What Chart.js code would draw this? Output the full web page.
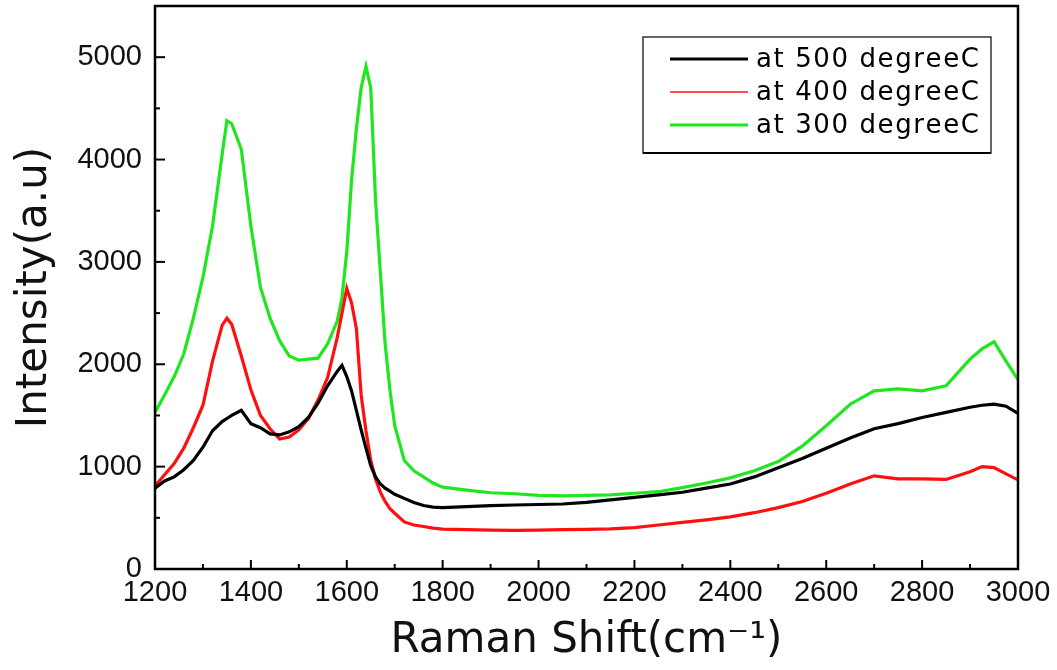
<!DOCTYPE html>
<html>
<head>
<meta charset="utf-8">
<script src="https://cdn.jsdelivr.net/npm/chart.js@4/dist/chart.umd.min.js"></script>
<style>
  body { margin: 0; background: #fff; }
  #wrap { width: 1057px; height: 670px; position: relative; }
</style>
</head>
<body>
<div id="wrap"><canvas id="raman"></canvas></div>
<script>
// Raman shift positions (cm-1)
const shift = [1200, 1220, 1240, 1260, 1280, 1300, 1320, 1340, 1350, 1360, 1380, 1400, 1420, 1440, 1460, 1480, 1500, 1520, 1540, 1560, 1580, 1590, 1600, 1610, 1620, 1630, 1640, 1650, 1660, 1670, 1680, 1690, 1700, 1720, 1740, 1760, 1780, 1800, 1850, 1900, 1950, 2000, 2050, 2100, 2150, 2200, 2250, 2300, 2350, 2400, 2450, 2500, 2550, 2600, 2650, 2700, 2750, 2800, 2850, 2900, 2925, 2950, 2975, 3000];

// intensities (a.u)
const at500 = [790, 860, 900, 970, 1060, 1190, 1350, 1440, 1470, 1500, 1550, 1420, 1380, 1320, 1310, 1340, 1390, 1480, 1620, 1790, 1930, 1990, 1880, 1740, 1550, 1360, 1180, 1010, 900, 830, 790, 760, 730, 690, 650, 620, 605, 600, 610, 620, 625, 630, 635, 650, 675, 700, 725, 750, 790, 830, 900, 990, 1080, 1180, 1280, 1370, 1420, 1480, 1530, 1580, 1600, 1610, 1590, 1520];
const at400 = [810, 920, 1030, 1180, 1380, 1600, 2030, 2380, 2450, 2390, 2080, 1750, 1500, 1370, 1270, 1290, 1360, 1470, 1650, 1870, 2260, 2500, 2740, 2600, 2350, 1700, 1350, 1060, 880, 750, 660, 590, 545, 460, 430, 415, 400, 390, 385, 380, 378, 380, 385, 388, 392, 405, 430, 455, 480, 510, 550, 600, 660, 740, 830, 910, 880, 880, 875, 950, 1000, 990, 930, 870];
const at300 = [1530, 1700, 1880, 2100, 2450, 2850, 3350, 4050, 4380, 4350, 4100, 3350, 2750, 2450, 2230, 2080, 2040, 2050, 2060, 2200, 2420, 2650, 3100, 3800, 4300, 4700, 4910, 4700, 3600, 2900, 2200, 1750, 1400, 1060, 960, 900, 840, 800, 770, 745, 735, 720, 715, 720, 725, 740, 755, 795, 840, 890, 960, 1050, 1200, 1400, 1610, 1740, 1760, 1740, 1790, 2050, 2150, 2220, 2030, 1850];

const seriesNames = ['at 500 degreeC', 'at 400 degreeC', 'at 300 degreeC'];
const xTicks = [1200, 1400, 1600, 1800, 2000, 2200, 2400, 2600, 2800, 3000];
const yTicks = [0, 1000, 2000, 3000, 4000, 5000];

function pts(vals) {
  return shift.map((x, i) => ({ x: x, y: vals[i] }));
}

// text with extra spacing between letters (legend font is wide)
function spacedText(ctx, str, x, y, gap) {
  for (const ch of str) {
    ctx.fillText(ch, x, y);
    x += ctx.measureText(ch).width + gap;
  }
}

// frame, inward ticks and legend box
const framePlugin = {
  id: 'frame',
  afterDraw(chart) {
    const ctx = chart.ctx;
    const a = chart.chartArea;
    const xs = chart.scales.x, ys = chart.scales.y;
    ctx.save();
    ctx.strokeStyle = '#000';
    ctx.lineWidth = 2.5;
    ctx.strokeRect(a.left, a.top, a.right - a.left, a.bottom - a.top);

    // ticks pointing into the plot
    ctx.lineWidth = 2;
    for (let v = 1200; v <= 3000; v += 100) {
      const px = xs.getPixelForValue(v);
      const len = v % 200 === 0 ? 9 : 5;
      ctx.beginPath();
      ctx.moveTo(px, a.bottom);
      ctx.lineTo(px, a.bottom - len);
      ctx.stroke();
    }
    for (let v = 0; v <= 5500; v += 500) {
      const py = ys.getPixelForValue(v);
      const len = v % 1000 === 0 ? 10 : 5;
      ctx.beginPath();
      ctx.moveTo(a.left, py);
      ctx.lineTo(a.left + len, py);
      ctx.stroke();
    }

    // legend
    const bx = 643, by = 37, bw = 348, bh = 116;
    ctx.fillStyle = '#fff';
    ctx.fillRect(bx, by, bw, bh);
    ctx.lineWidth = 1.2;
    ctx.strokeRect(bx, by, bw, bh);
    ctx.lineWidth = 2;
    ctx.beginPath();
    ctx.moveTo(bx, by + bh);
    ctx.lineTo(bx + bw, by + bh);
    ctx.stroke();
    const rows = [59, 92, 125];
    const widths = [3, 1.5, 3];
    ctx.font = '26px "DejaVu Sans", sans-serif';
    ctx.textBaseline = 'middle';
    chart.data.datasets.forEach((ds, i) => {
      ctx.strokeStyle = ds.borderColor;
      ctx.lineWidth = widths[i];
      ctx.beginPath();
      ctx.moveTo(670, rows[i]);
      ctx.lineTo(748, rows[i]);
      ctx.stroke();
      ctx.fillStyle = '#000';
      spacedText(ctx, ds.label, 756, rows[i] + 1, 1.6);
    });
    ctx.restore();
  }
};

const ctx = document.getElementById('raman').getContext('2d');
const ramanChart = new Chart(ctx, {
  type: 'line',
  data: {
    datasets: [
      { label: seriesNames[0], data: pts(at500), borderColor: '#000000', borderWidth: 3.2 },
      { label: seriesNames[1], data: pts(at400), borderColor: '#ff1010', borderWidth: 3.2 },
      { label: seriesNames[2], data: pts(at300), borderColor: '#1fe61f', borderWidth: 3.2 }
    ]
  },
  options: {
    responsive: true,
    maintainAspectRatio: false,
    animation: false,
    elements: { point: { radius: 0 }, line: { tension: 0 } },
    layout: { padding: { left: 0, right: 39, top: 6, bottom: 0 } },
    plugins: {
      legend: { display: false },
      tooltip: { enabled: false }
    },
    scales: {
      x: {
        type: 'linear',
        min: 1200,
        max: 3000,
        afterBuildTicks: (s) => { s.ticks = xTicks.map(v => ({ value: v })); },
        afterFit: (s) => { s.height = 101; s.paddingLeft = 0; s.paddingRight = 0; },
        grid: { display: false, drawTicks: false },
        border: { display: false },
        ticks: {
          color: '#111',
          padding: 7,
          maxRotation: 0,
          callback: (v) => String(v),
          font: { family: '"Liberation Sans", Arial, sans-serif', size: 29 }
        },
        title: {
          display: true,
          text: 'Raman Shift(cm⁻¹)',
          color: '#111',
          padding: { top: 0, bottom: 4 },
          font: { family: '"DejaVu Sans", sans-serif', size: 42 }
        }
      },
      y: {
        min: 0,
        max: 5500,
        afterBuildTicks: (s) => { s.ticks = yTicks.map(v => ({ value: v })); },
        afterFit: (s) => { s.width = 155; s.paddingTop = 0; s.paddingBottom = 0; },
        grid: { display: false, drawTicks: false },
        border: { display: false },
        ticks: {
          color: '#111',
          padding: 13,
          callback: (v) => String(v),
          font: { family: '"Liberation Sans", Arial, sans-serif', size: 29 }
        },
        title: {
          display: true,
          text: 'Intensity(a.u)',
          color: '#111',
          padding: { top: 10, bottom: 0 },
          font: { family: '"DejaVu Sans", sans-serif', size: 42 }
        }
      }
    }
  },
  plugins: [framePlugin]
});
</script>
</body>
</html>
